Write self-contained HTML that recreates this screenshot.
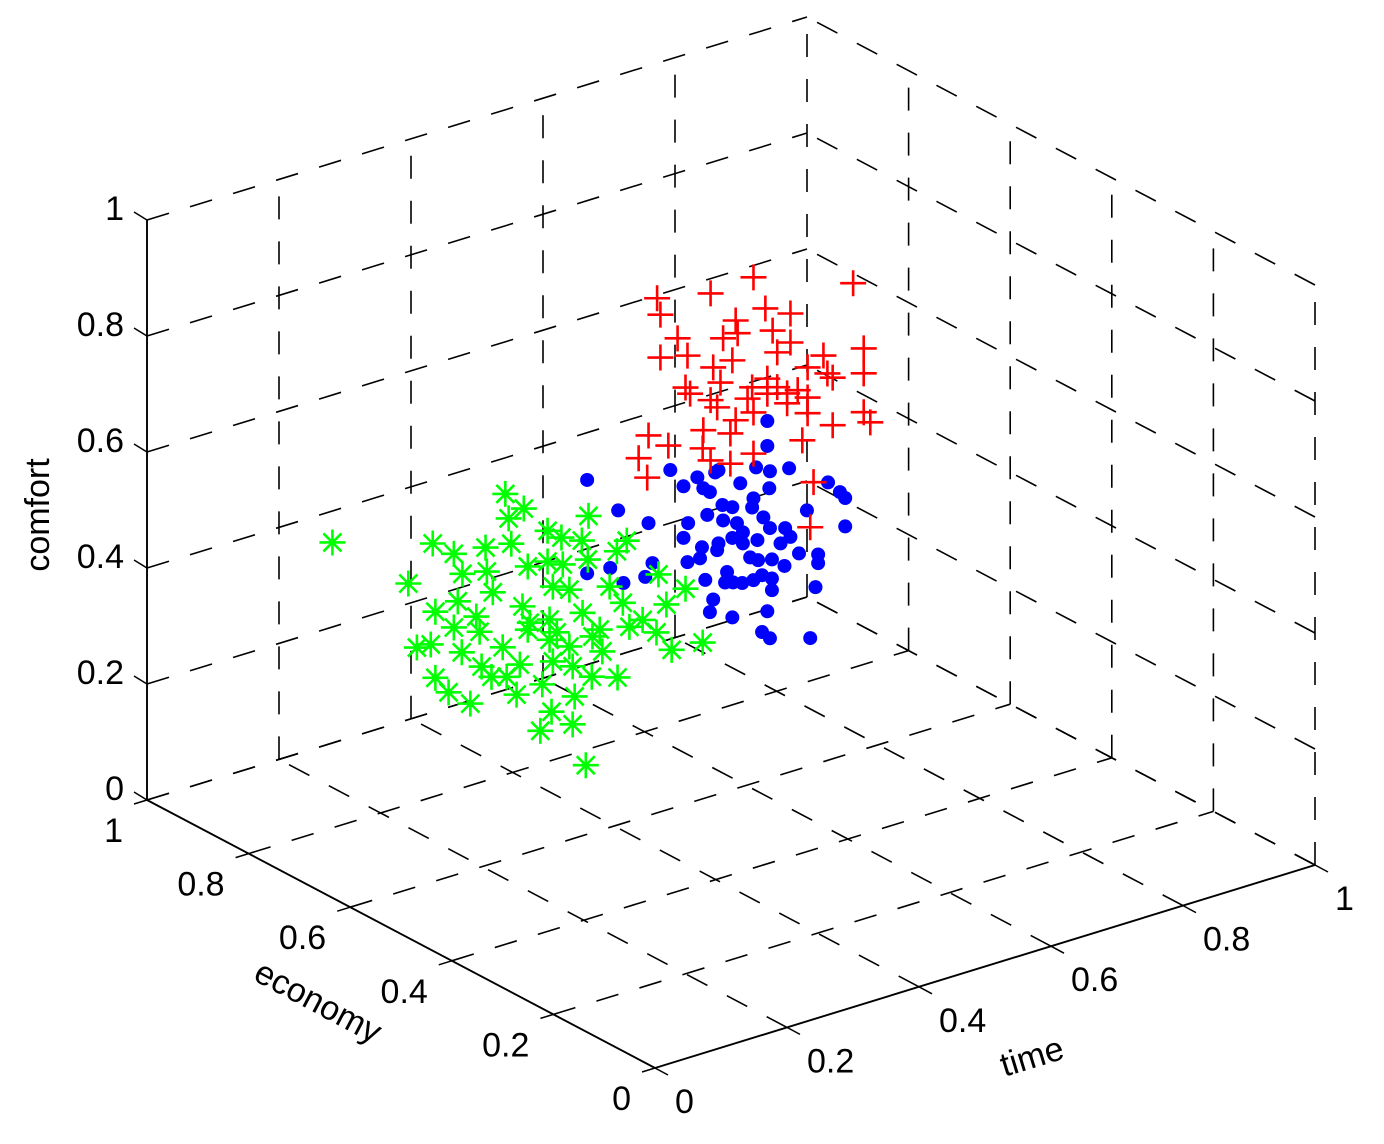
<!DOCTYPE html>
<html><head><meta charset="utf-8"><style>
html,body{margin:0;padding:0;background:#fff;}
svg{display:block;font-family:"Liberation Sans",Arial,sans-serif;}
</style></head><body>
<svg id="chart" width="1384" height="1144" viewBox="0 0 1384 1144" xmlns="http://www.w3.org/2000/svg">
<g id="grid"></g>
<g id="axes"></g>
<g id="marks"></g>
</svg>
<script>
const tickVals = [0, 0.2, 0.4, 0.6, 0.8, 1];
const tickLabels = ["0", "0.2", "0.4", "0.6", "0.8", "1"];

const blueTime = [.359,.485,.526,.553,.558,.615,.636,.665,.632,.632,.505,.535,.545,.591,.635,.611,.564,.579,.609,.626,.724,.742,.75,.692,.75,.406,.452,.512,.541,.565,.586,.595,.636,.659,.667,.505,.533,.558,.579,.595,.617,.652,.68,.709,.709,.359,.394,.458,.511,.530,.556,.606,.618,.639,.658,.414,.447,.538,.571,.580,.611,.624,.639,.639,.705,.55,.545,.579,.632,.624,.636,.697,.568,.594];
const blueEcon = [.6,.6,.6,.6,.6,.6,.6,.6,.6,.6,.6,.6,.6,.6,.6,.6,.6,.6,.6,.6,.6,.6,.6,.6,.6,.6,.6,.6,.6,.6,.6,.6,.6,.6,.6,.6,.6,.6,.6,.6,.6,.6,.6,.6,.6,.6,.6,.6,.6,.6,.6,.6,.6,.6,.6,.6,.6,.6,.6,.6,.6,.6,.6,.6,.6,.6,.6,.6,.6,.6,.6,.6,.6,.6];
const blueComfort = [.611,.584,.557,.556,.558,.543,.529,.524,.617,.574,.549,.535,.525,.524,.500,.491,.496,.487,.476,.453,.479,.456,.443,.442,.394,.542,.504,.483,.487,.469,.457,.438,.431,.423,.405,.460,.434,.432,.434,.419,.417,.399,.372,.360,.345,.450,.447,.433,.416,.416,.421,.391,.382,.376,.358,.414,.413,.376,.378,.357,.350,.354,.343,.323,.305,.338,.318,.297,.289,.256,.241,.220,.361,.351];

const greenTime = [.127,.389,.417,.394,.515,.279,.311,.359,.398,.453,.474,.505,.573,.242,.324,.361,.423,.453,.476,.514,.558,.621,.662,.317,.283,.370,.415,.461,.486,.547,.567,.633,.345,.311,.35,.426,.456,.506,.532,.597,.618,.688,.255,.276,.323,.385,.456,.486,.536,.641,.353,.411,.461,.491,.283,.368,.391,.445,.52,.559,.303,.336,.406,.494,.459,.442,.491,.280,.423,.467,.521,.577];
const greenEcon = [.8,.8,.8,.8,.8,.8,.8,.8,.8,.8,.8,.8,.8,.8,.8,.8,.8,.8,.8,.8,.8,.8,.8,.8,.8,.8,.8,.8,.8,.8,.8,.8,.8,.8,.8,.8,.8,.8,.8,.8,.8,.8,.8,.8,.8,.8,.8,.8,.8,.8,.8,.8,.8,.8,.8,.8,.8,.8,.8,.8,.8,.8,.8,.8,.8,.8,.8,.5,.8,.8,.8,.8];
const greenComfort = [.492,.484,.449,.440,.402,.437,.408,.402,.395,.398,.379,.363,.339,.381,.369,.360,.347,.345,.332,.327,.326,.264,.225,.324,.318,.321,.281,.299,.285,.269,.234,.208,.288,.281,.260,.249,.244,.238,.200,.194,.165,.123,.266,.264,.234,.221,.209,.187,.161,.127,.199,.182,.170,.151,.204,.176,.168,.136,.123,.108,.172,.141,.132,.098,.084,.057,.051,.193,.238,.218,.192,.189];

const redTime = [.688,.839,.542,.623,.547,.661,.706,.744,.717,.573,.642,.664,.744,.547,.588,.627,.656,.724,.794,.855,.855,.585,.638,.686,.709,.724,.755,.770,.8,.808,.592,.623,.679,.709,.739,.77,.633,.661,.688,.739,.77,.855,.865,.808,.529,.559,.612,.653,.611,.514,.527,.623,.653,.688,.762,.779,.774];
const redEcon = [.7,.7,.7,.7,.7,.7,.7,.7,.7,.7,.7,.7,.7,.7,.7,.7,.7,.7,.7,.7,.7,.7,.7,.7,.7,.7,.7,.7,.7,.7,.7,.7,.7,.7,.7,.7,.7,.7,.7,.7,.7,.7,.7,.7,.7,.7,.7,.7,.7,.7,.7,.7,.7,.7,.7,.7,.7];
const redComfort = [.799,.736,.814,.794,.784,.734,.739,.717,.697,.734,.710,.711,.667,.710,.699,.665,.667,.657,.627,.618,.575,.645,.635,.610,.617,.597,.581,.615,.594,.584,.632,.610,.593,.591,.581,.563,.594,.562,.566,.564,.536,.508,.487,.502,.582,.554,.562,.542,.531,.548,.510,.506,.490,.495,.492,.414,.338];

const O = [655, 1068], T = [660, -203], E = [-508, -268], C = [0, -580];
function px(t, e, c) { return O[0] + t*T[0] + e*E[0] + c*C[0]; }
function py(t, e, c) { return O[1] + t*T[1] + e*E[1] + c*C[1]; }
const NS = "http://www.w3.org/2000/svg";
function mk(tag, attrs, parent) {
  const el = document.createElementNS(NS, tag);
  for (const k in attrs) el.setAttribute(k, attrs[k]);
  parent.appendChild(el);
  return el;
}
const grid = document.getElementById('grid');
const axes = document.getElementById('axes');
const marks = document.getElementById('marks');
const dash = {stroke:'#000','stroke-width':1.6,'stroke-dasharray':'23 22',fill:'none'};
function dline(a, b, name) {
  const l = mk('line', Object.assign({x1:px(...a),y1:py(...a),x2:px(...b),y2:py(...b)}, dash), grid);
  
  
}
tickVals.forEach(v => {
  if (v > 0) dline([v,1,0],[v,1,1],'grid-back-vertical');
  dline([0,1,v],[1,1,v],'grid-back-horizontal');
  if (v < 1) dline([1,v,0],[1,v,1],'grid-side-vertical');
  dline([1,0,v],[1,1,v],'grid-side-horizontal');
  if (v > 0) dline([v,0,0],[v,1,0],'grid-floor-time');
  if (v > 0) dline([0,v,0],[1,v,0],'grid-floor-economy');
});
const solid = {stroke:'#000','stroke-width':1.9,fill:'none'};
function sline(a, b, name) {
  const l = mk('line', Object.assign({x1:px(...a),y1:py(...a),x2:px(...b),y2:py(...b)}, solid), axes);
  
  
}
sline([0,1,0],[0,1,1],'comfort-axis');
sline([0,0,0],[0,1,0],'economy-axis');
sline([0,0,0],[1,0,0],'time-axis');
function txt(x, y, s, anchor, name, extra) {
  const t = mk('text', Object.assign({x:x, y:y, 'font-size':34, 'text-anchor':anchor, 'dominant-baseline':'central', fill:'#000'}, extra||{}), axes);
  t.textContent = s;
  
  
}
tickVals.forEach((v, i) => {
  let x = px(0,1,v), y = py(0,1,v);
  const tk = mk('line', {x1:x,y1:y,x2:x-13,y2:y-8,stroke:'#000','stroke-width':1.5}, axes);
  
  
  txt(x-23, y-11, tickLabels[i], 'end', 'comfort-tick-label');
  x = px(0,v,0); y = py(0,v,0);
  const te = mk('line', {x1:x,y1:y,x2:x-13,y2:y+4,stroke:'#000','stroke-width':1.5}, axes);
  
  
  txt(x-24, y+31, tickLabels[i], 'end', 'economy-tick-label');
  x = px(v,0,0); y = py(v,0,0);
  const tt = mk('line', {x1:x,y1:y,x2:x+13,y2:y+7,stroke:'#000','stroke-width':1.5}, axes);
  
  
  txt(x+20, y+34, tickLabels[i], 'start', 'time-tick-label');
});
txt(38, 515, 'comfort', 'middle', 'comfort-axis-title', {transform:'rotate(-90 38 515)'});
txt(318, 1002, 'economy', 'middle', 'economy-axis-title', {transform:'rotate(28 318 1002)'});
txt(1032, 1057, 'time', 'middle', 'time-axis-title', {transform:'rotate(-17 1032 1057)'});

blueTime.forEach((t, i) => {
  const c = mk('circle', {cx:px(t,blueEcon[i],blueComfort[i]), cy:py(t,blueEcon[i],blueComfort[i]), r:7, fill:'#0000ff'}, marks);
  
  
});
greenTime.forEach((t, i) => {
  const x = px(t,greenEcon[i],greenComfort[i]), y = py(t,greenEcon[i],greenComfort[i]);
  const s = 13, d = 9;
  const p = mk('path', {d:`M${x-s} ${y}H${x+s}M${x} ${y-s}V${y+s}M${x-d} ${y-d}L${x+d} ${y+d}M${x-d} ${y+d}L${x+d} ${y-d}`, stroke:'#00ff00','stroke-width':2.6, fill:'none'}, marks);
  
  
});
redTime.forEach((t, i) => {
  const x = px(t,redEcon[i],redComfort[i]), y = py(t,redEcon[i],redComfort[i]);
  const s = 13;
  const p = mk('path', {d:`M${x-s} ${y}H${x+s}M${x} ${y-s}V${y+s}`, stroke:'#ff0000','stroke-width':2.6, fill:'none'}, marks);
  
  
});
</script>
</body></html>
